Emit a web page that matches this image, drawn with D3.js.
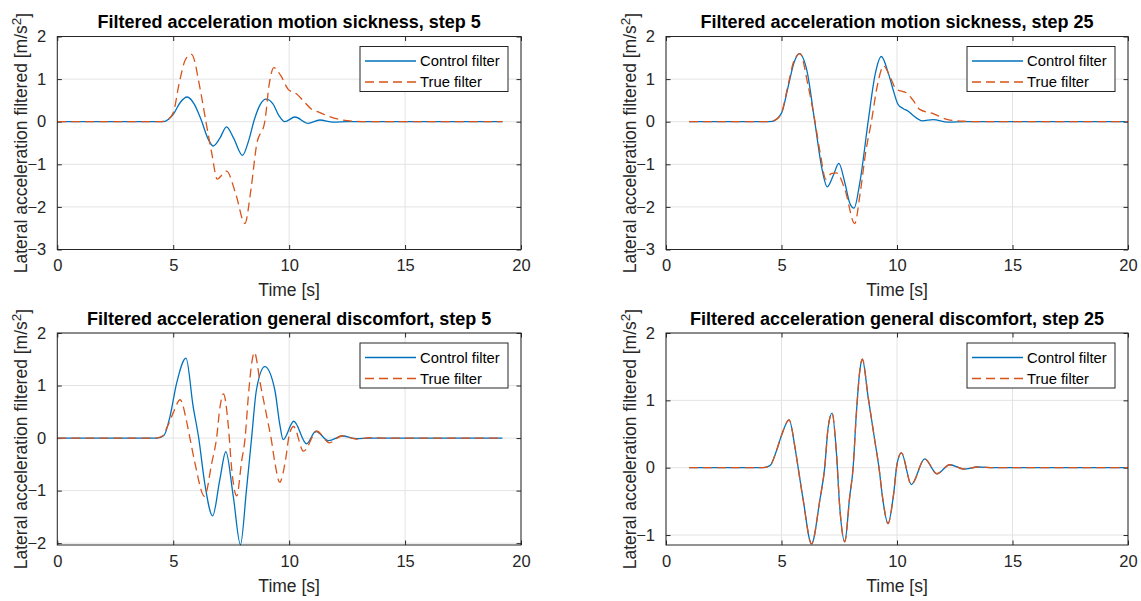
<!DOCTYPE html>
<html><head><meta charset="utf-8">
<script src="https://cdn.jsdelivr.net/npm/d3@7"></script>
<style>
html,body{margin:0;padding:0;background:#fff;}
svg{display:block;font-family:"Liberation Sans",Arial,Helvetica,sans-serif;}
</style></head>
<body><svg id="chart" width="1141" height="601"></svg>
<script>
// ---------- DATA ----------
const titles = [
  "Filtered acceleration motion sickness, step 5",
  "Filtered acceleration motion sickness, step 25",
  "Filtered acceleration general discomfort, step 5",
  "Filtered acceleration general discomfort, step 25"
];
const seriesNames = ["Control filter", "True filter"];
const xLabel = "Time [s]";
const yLabelMain = "Lateral acceleration filtered [m/s";
const yLabelSup = "2";
const xTicks = [0, 5, 10, 15, 20];
const yTicksMS = [-3, -2, -1, 0, 1, 2];
const yTicksGD5 = [-2, -1, 0, 1, 2];
const yTicksGD25 = [-1, 0, 1, 2];
const yDomainMS = [-3, 2];
const yDomainGD5 = [-2.035, 2];
const yDomainGD25 = [-1.148, 2];
const xDomain = [0, 20];

// Panel 1: motion sickness, step 5
const tCtrlMS5 = [0, 4.3, 4.6, 4.8, 5.0, 5.3, 5.6, 5.9, 6.2, 6.5, 6.72, 7.0, 7.3, 7.6, 7.99, 8.25, 8.5, 8.75, 9.0, 9.3, 9.55, 9.81, 10.25, 10.82, 11.32, 11.9, 12.5, 19.2];
const vCtrlMS5 = [0, 0, 0.0, 0.06, 0.17, 0.45, 0.58, 0.42, 0.05, -0.4, -0.57, -0.4, -0.12, -0.38, -0.79, -0.45, 0.05, 0.4, 0.53, 0.42, 0.15, 0.0, 0.11, -0.04, 0.04, -0.01, 0, 0];
const tTrueMS5 = [0, 4.4, 4.7, 5.0, 5.25, 5.53, 5.79, 6.15, 6.41, 6.66, 6.9, 7.1, 7.3, 7.7, 8.09, 8.35, 8.6, 8.95, 9.14, 9.34, 9.64, 9.96, 10.3, 10.6, 10.95, 11.3, 11.7, 12.2, 12.9, 13.6, 19.2];
const vTrueMS5 = [0, 0, 0.03, 0.21, 0.88, 1.46, 1.58, 0.8, 0.0, -0.73, -1.35, -1.25, -1.16, -1.7, -2.39, -1.6, -0.53, 0.0, 0.88, 1.27, 1.08, 0.76, 0.66, 0.5, 0.3, 0.22, 0.13, 0.05, 0.01, 0, 0];

// Panel 2: motion sickness, step 25
const tCtrlMS25 = [1, 4.3, 4.6, 5.0, 5.3, 5.55, 5.77, 6.1, 6.44, 6.75, 6.98, 7.25, 7.48, 7.75, 7.95, 8.14, 8.4, 8.75, 9.05, 9.32, 9.64, 9.86, 10.04, 10.26, 10.5, 10.69, 11.1, 11.56, 12.2, 13, 20];
const vCtrlMS25 = [0, 0, 0.01, 0.2, 0.85, 1.4, 1.6, 1.2, 0.0, -1.1, -1.53, -1.25, -0.98, -1.45, -1.9, -2.03, -1.4, 0.0, 1.1, 1.53, 1.11, 0.7, 0.41, 0.31, 0.24, 0.15, 0.02, 0.05, -0.01, 0, 0];
const tTrueMS25 = [1, 4.4, 4.7, 5.0, 5.3, 5.55, 5.8, 6.15, 6.45, 6.68, 6.92, 7.15, 7.38, 7.75, 8.17, 8.4, 8.65, 8.89, 9.15, 9.42, 9.7, 9.97, 10.4, 10.7, 10.98, 11.56, 12.2, 12.9, 13.6, 20];
const vTrueMS25 = [0, 0, 0.03, 0.21, 0.9, 1.45, 1.6, 0.85, 0.0, -0.75, -1.35, -1.22, -1.2, -1.6, -2.39, -1.7, -0.7, 0.0, 0.85, 1.31, 1.05, 0.76, 0.68, 0.5, 0.29, 0.19, 0.05, 0.01, 0, 0];

// Panel 3: general discomfort, step 5
const tCtrlGD5 = [0, 4.3, 4.6, 4.86, 5.15, 5.55, 5.86, 6.1, 6.36, 6.7, 7.01, 7.27, 7.59, 7.9, 8.16, 8.38, 8.59, 8.95, 9.38, 9.6, 9.74, 10.2, 10.75, 11.15, 11.7, 12.3, 12.9, 13.5, 19.2];
const vCtrlGD5 = [0, 0, 0.05, 0.41, 1.05, 1.52, 0.6, 0.0, -0.86, -1.48, -0.79, -0.26, -1.11, -2.03, -0.98, 0.0, 0.92, 1.36, 0.92, 0.25, -0.03, 0.32, -0.11, 0.13, -0.05, 0.04, -0.01, 0, 0];
const tTrueGD5 = [0, 4.2, 4.5, 4.79, 5.0, 5.3, 5.58, 5.72, 5.94, 6.35, 6.66, 6.87, 7.02, 7.17, 7.38, 7.52, 7.74, 7.95, 8.1, 8.24, 8.39, 8.5, 8.75, 9.04, 9.22, 9.39, 9.59, 9.85, 10.0, 10.19, 10.62, 11.2, 11.73, 12.28, 12.9, 13.5, 14.2, 19.2];
const vTrueGD5 = [0, 0, 0.03, 0.26, 0.48, 0.73, 0.31, 0.0, -0.48, -1.11, -0.48, 0.0, 0.6, 0.84, 0.21, -0.58, -1.1, -0.44, 0.0, 0.8, 1.44, 1.63, 1.05, 0.4, 0.0, -0.48, -0.84, -0.4, 0.05, 0.22, -0.25, 0.13, -0.09, 0.044, -0.02, 0.01, 0, 0];

// Panel 4: general discomfort, step 25
const tCtrlGD25 = [1, 4.2, 4.5, 4.79, 5.0, 5.33, 5.58, 5.72, 5.94, 6.3, 6.66, 6.87, 7.02, 7.19, 7.38, 7.52, 7.74, 7.95, 8.1, 8.24, 8.39, 8.5, 8.75, 9.04, 9.22, 9.39, 9.61, 9.85, 10.0, 10.19, 10.62, 11.2, 11.73, 12.28, 12.9, 13.5, 14.2, 20];
const vCtrlGD25 = [0, 0, 0.03, 0.26, 0.48, 0.71, 0.31, 0.0, -0.48, -1.13, -0.48, 0.0, 0.6, 0.81, 0.21, -0.58, -1.1, -0.44, 0.0, 0.8, 1.44, 1.61, 1.05, 0.4, 0.0, -0.48, -0.83, -0.4, 0.05, 0.22, -0.25, 0.13, -0.09, 0.044, -0.02, 0.01, 0, 0];
const tTrueGD25 = [1, 4.2, 4.5, 4.79, 5.0, 5.33, 5.58, 5.72, 5.94, 6.3, 6.66, 6.87, 7.02, 7.19, 7.38, 7.52, 7.74, 7.95, 8.1, 8.24, 8.39, 8.5, 8.75, 9.04, 9.22, 9.39, 9.61, 9.85, 10.0, 10.19, 10.62, 11.2, 11.73, 12.28, 12.9, 13.5, 14.2, 20];
const vTrueGD25 = [0, 0, 0.03, 0.26, 0.48, 0.71, 0.31, 0.0, -0.48, -1.13, -0.48, 0.0, 0.6, 0.81, 0.21, -0.58, -1.1, -0.44, 0.0, 0.8, 1.44, 1.61, 1.05, 0.4, 0.0, -0.48, -0.83, -0.4, 0.05, 0.22, -0.25, 0.13, -0.09, 0.044, -0.02, 0.01, 0, 0];

// ---------- LAYOUT / STYLE ----------
const colors = ["#0072BD", "#D95319"];
const axisColor = "#262626";
const gridColor = "#e3e3e3";
const panels = [
  {x0: 57.3, x1: 521, y0: 36.5, y1: 249.5, yDom: yDomainMS, yTicks: yTicksMS, t: [tCtrlMS5, tTrueMS5], v: [vCtrlMS5, vTrueMS5]},
  {x0: 666, x1: 1128, y0: 36.5, y1: 249.5, yDom: yDomainMS, yTicks: yTicksMS, t: [tCtrlMS25, tTrueMS25], v: [vCtrlMS25, vTrueMS25]},
  {x0: 57.3, x1: 521, y0: 333, y1: 545, yDom: yDomainGD5, yTicks: yTicksGD5, t: [tCtrlGD5, tTrueGD5], v: [vCtrlGD5, vTrueGD5]},
  {x0: 666, x1: 1128, y0: 333, y1: 545, yDom: yDomainGD25, yTicks: yTicksGD25, t: [tCtrlGD25, tTrueGD25], v: [vCtrlGD25, vTrueGD25]}
];

const svg = d3.select("#chart");
const tickLen = 4.5;

panels.forEach((p, i) => {
  const x = d3.scaleLinear().domain(xDomain).range([p.x0, p.x1]);
  const y = d3.scaleLinear().domain(p.yDom).range([p.y1, p.y0]);
  const g = svg.append("g");
  const clipId = "clip" + i;
  svg.append("defs").append("clipPath").attr("id", clipId)
    .append("rect").attr("x", p.x0).attr("y", p.y0 - 1).attr("width", p.x1 - p.x0).attr("height", p.y1 - p.y0 + 2);

  // grid
  g.append("g").selectAll("line").data(xTicks).join("line")
    .attr("x1", d => x(d)).attr("x2", d => x(d)).attr("y1", p.y0).attr("y2", p.y1)
    .attr("stroke", gridColor).attr("stroke-width", 1);
  g.append("g").selectAll("line").data(p.yTicks).join("line")
    .attr("x1", p.x0).attr("x2", p.x1).attr("y1", d => y(d)).attr("y2", d => y(d))
    .attr("stroke", gridColor).attr("stroke-width", 1);

  // axes (inward ticks on all four sides)
  const xAxisB = d3.axisBottom(x).tickValues(xTicks).tickSize(-tickLen).tickPadding(10).tickFormat(d3.format("d"));
  const xAxisT = d3.axisTop(x).tickValues(xTicks).tickSize(-tickLen).tickFormat("");
  const yAxisL = d3.axisLeft(y).tickValues(p.yTicks).tickSize(-tickLen).tickPadding(11).tickFormat(d3.format("d"));
  const yAxisR = d3.axisRight(y).tickValues(p.yTicks).tickSize(-tickLen).tickFormat("");

  const styleAxis = sel => {
    sel.select(".domain").remove();
    sel.selectAll(".tick line").attr("stroke", axisColor).attr("stroke-width", 1);
    sel.selectAll(".tick text").attr("fill", axisColor).attr("font-size", "16.5px")
      .attr("font-family", "'Liberation Sans', Arial, sans-serif");
  };
  g.append("g").attr("transform", `translate(0,${p.y1})`).call(xAxisB).call(styleAxis);
  g.append("g").attr("transform", `translate(0,${p.y0})`).call(xAxisT).call(styleAxis);
  g.append("g").attr("transform", `translate(${p.x0},0)`).call(yAxisL).call(styleAxis);
  g.append("g").attr("transform", `translate(${p.x1},0)`).call(yAxisR).call(styleAxis);

  // lines
  const line = d3.line().x(d => x(d[0])).y(d => y(d[1])).curve(d3.curveMonotoneX);
  const lg = g.append("g").attr("clip-path", `url(#${clipId})`);
  [0, 1].forEach(s => {
    const pts = p.t[s].map((tt, k) => [tt, p.v[s][k]]);
    lg.append("path").datum(pts).attr("d", line)
      .attr("fill", "none").attr("stroke", colors[s]).attr("stroke-width", 1.3)
      .attr("stroke-dasharray", s === 1 ? "9,5" : null)
      .attr("stroke-linejoin", "round");
  });

  // box
  g.append("rect").attr("x", p.x0).attr("y", p.y0).attr("width", p.x1 - p.x0).attr("height", p.y1 - p.y0)
    .attr("fill", "none").attr("stroke", axisColor).attr("stroke-width", 1);

  // title
  g.append("text").attr("x", (p.x0 + p.x1) / 2).attr("y", p.y0 - 8.5)
    .attr("text-anchor", "middle").attr("font-weight", "bold").attr("font-size", "18px")
    .attr("fill", "#000").text(titles[i]);

  // x label
  g.append("text").attr("x", (p.x0 + p.x1) / 2).attr("y", p.y1 + 46.5)
    .attr("text-anchor", "middle").attr("font-size", "17.5px").attr("fill", axisColor).text(xLabel);

  // y label
  const yl = g.append("text")
    .attr("transform", `translate(${p.x0 - 30},${(p.y0 + p.y1) / 2}) rotate(-90)`)
    .attr("text-anchor", "middle").attr("font-size", "17.5px").attr("fill", axisColor);
  yl.append("tspan").text(yLabelMain);
  yl.append("tspan").attr("dy", "-0.45em").attr("font-size", "13.5px").text(yLabelSup);
  yl.append("tspan").attr("dy", "0.45em").text("]");

  // legend
  const lx = p.x1 - 161, ly = p.y0 + 10, lw = 148, lh = 45;
  const leg = g.append("g");
  leg.append("rect").attr("x", lx).attr("y", ly).attr("width", lw).attr("height", lh)
    .attr("fill", "#fff").attr("stroke", axisColor).attr("stroke-width", 1);
  seriesNames.forEach((nm, s) => {
    const yy = ly + 14.5 + s * 21;
    leg.append("line").attr("x1", lx + 5).attr("x2", lx + 56).attr("y1", yy).attr("y2", yy)
      .attr("stroke", colors[s]).attr("stroke-width", 1.3)
      .attr("stroke-dasharray", s === 1 ? "9,5" : null);
    leg.append("text").attr("x", lx + 60).attr("y", yy).attr("dy", "0.35em")
      .attr("font-size", "14.8px").attr("fill", "#000").text(nm);
  });
});
</script>
</body></html>
